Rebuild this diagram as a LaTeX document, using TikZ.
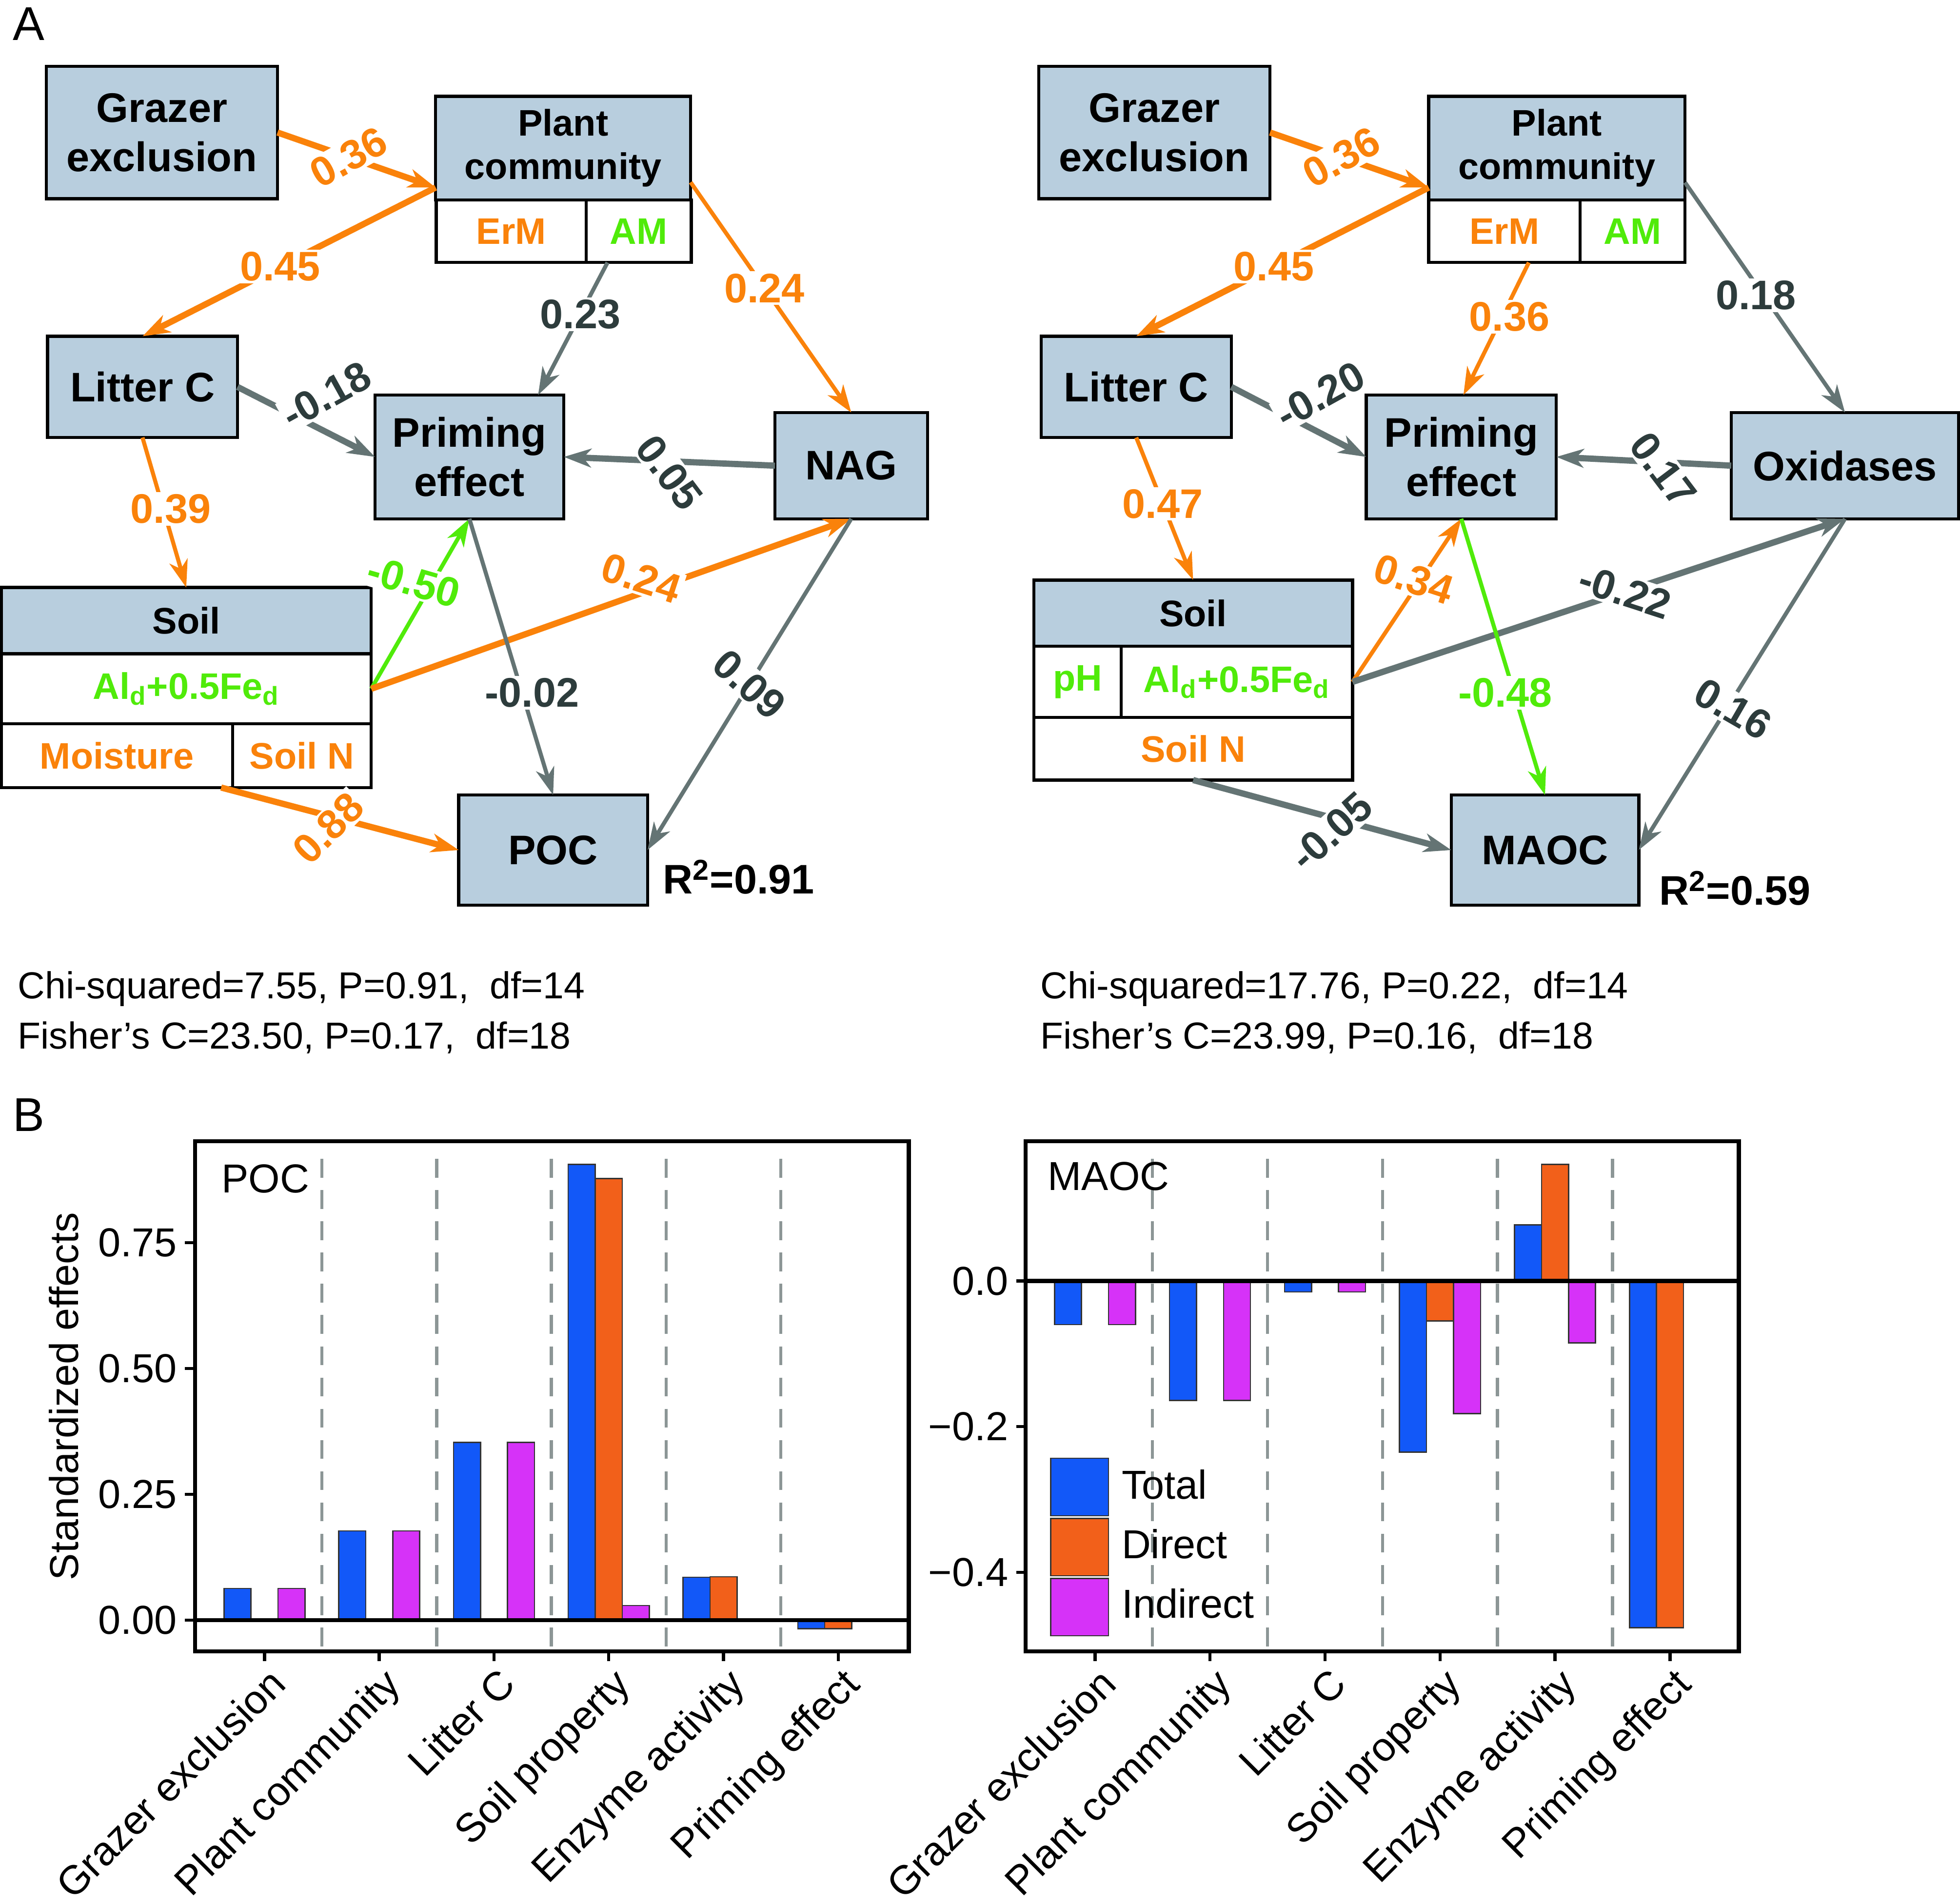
\documentclass[tikz,border=0pt]{standalone}
\usepackage{fontspec}
\setmainfont{Liberation Sans}
\usetikzlibrary{arrows.meta}

\definecolor{boxfill}{RGB}{184,206,222}
\definecolor{semor}{RGB}{250,130,10}
\definecolor{semgray}{RGB}{100,116,116}
\definecolor{semdark}{RGB}{45,60,60}
\definecolor{semgreen}{RGB}{80,235,10}
\definecolor{bartot}{RGB}{18,88,248}
\definecolor{bardir}{RGB}{242,96,26}
\definecolor{barind}{RGB}{214,50,248}
\definecolor{dashgray}{RGB}{140,150,150}

\newcommand\boxfont{\fontsize{18.8}{22.5}\selectfont\bfseries}
\newcommand\cellfont{\fontsize{16.8}{19.8}\selectfont\bfseries}
\newcommand\axisfont{\fontsize{18.4}{21}\selectfont}
\newcommand\fitfont{\fontsize{17.1}{20}\selectfont}
\newcommand\panelfont{\fontsize{21.6}{25}\selectfont}

\tikzset{
  varbox/.style={draw, line width=0.5mm, fill=boxfill, inner sep=0pt, outer sep=0pt, align=center, font=\boxfont},
  subcell/.style={draw, line width=0.5mm, fill=white, inner sep=0pt, outer sep=0pt, font=\cellfont},
  coeflab/.style={font=\boxfont, fill=white, inner sep=1pt},
  olab/.style={coeflab, text=semor},
  glab/.style={coeflab, text=semdark},
  nlab/.style={coeflab, text=semgreen},
  arr/.style={-{Stealth[length=4.4mm, width=3mm, inset=1.3mm]}},
  oarr/.style={arr, draw=semor},
  garr/.style={arr, draw=semgray},
  narr/.style={arr, draw=semgreen},
  strongline/.style={line width=1mm},
  weakline/.style={line width=0.65mm},
  axl/.style={font=\axisfont},
  barbox/.style={draw=black!80, line width=0.2mm},
  sepline/.style={draw=dashgray, line width=0.5mm, dash pattern=on 3mm off 2mm},
  frameline/.style={line width=0.65mm}
}

\begin{document}
\begin{tikzpicture}[x=0.2mm, y=-0.2mm]
\useasboundingbox (0,0) rectangle (1568,1523);

\node[font=\panelfont, anchor=base west, inner sep=0pt] (pA) at (10,32) {A};
\node[font=\panelfont, anchor=base west, inner sep=0pt] (pB) at (10,905) {B};

% SEM for POC
\node[varbox, minimum width=37mm, minimum height=21.2mm] (ge) at (129.5,106) {Grazer\\exclusion};
\node[varbox, font=\cellfont, minimum width=40.8mm, minimum height=16.6mm] (pc) at (450.5,118.5) {Plant\\community};
\node[subcell, text=semor, minimum width=24mm, minimum height=10mm] (pcE) at (409,185) {ErM};
\node[subcell, text=semgreen, minimum width=16.8mm, minimum height=10mm] (pcA) at (511,185) {AM};
\node[varbox, minimum width=30.4mm, minimum height=16.2mm] (lc) at (114,309.5) {Litter C};
\node[varbox, minimum width=30.2mm, minimum height=19.8mm] (pe) at (375.5,365.5) {Priming\\effect};
\node[varbox, minimum width=24.4mm, minimum height=17mm] (nag) at (681,372.5) {NAG};
\node[varbox, font=\cellfont, minimum width=59.2mm, minimum height=10.6mm] (soil) at (149,496.5) {Soil};
\node[subcell, text=semgreen, minimum width=59.2mm, minimum height=11.2mm] (soilA) at (149,551) {Al\textsubscript{d}+0.5Fe\textsubscript{d}};
\node[subcell, text=semor, minimum width=37mm, minimum height=10.2mm] (soilM) at (93.5,604.5) {Moisture};
\node[subcell, text=semor, minimum width=22.2mm, minimum height=10.2mm] (soilN) at (241.5,604.5) {Soil N};
\node[varbox, minimum width=30.2mm, minimum height=17.6mm] (poc) at (442.5,680) {POC};
\node[font=\boxfont, anchor=base west, inner sep=0pt] (r2poc) at (530,715) {R\textsuperscript{2}=0.91};
\coordinate (pcL) at ([yshift=2mm]pc.south west);

\draw[oarr, strongline] (ge.east) -- node[olab, pos=.45, rotate=29] (l1) {0.36} (pcL);
\draw[oarr, strongline] (pcL) -- node[olab, pos=.53] (l2) {0.45} (lc.north);
\draw[garr, weakline] (pcA.-135) -- node[glab, pos=.39] (l3) {0.23} (pe.42);
\draw[oarr, weakline] (pc.-15.5) -- node[olab, pos=.46] (l4) {0.24} (nag.north);
\draw[garr, strongline] (lc.east) -- node[glab, pos=.5, xshift=3.2mm, yshift=4.3mm, rotate=29] (l5) {-0.18} (pe.west);
\draw[garr, strongline] (nag.west) -- node[glab, pos=.5, yshift=-1.8mm, rotate=-53] (l6) {0.05} (pe.east);
\draw[oarr, weakline] (lc.south) -- node[olab, pos=.475, xshift=1.2mm] (l7) {0.39} (soil.north);
\draw[narr, weakline] (soilA.east) -- node[nlab, pos=.63, xshift=-3.1mm, rotate=-16] (l8) {-0.50} (pe.south);
\draw[oarr, strongline] (soilA.east) -- node[olab, pos=.5625, yshift=2.4mm, rotate=-18] (l9) {0.24} (nag.south);
\draw[garr, weakline] (pe.south) -- node[glab, pos=.63, xshift=1.6mm] (l10) {-0.02} (poc.north);
\draw[garr, weakline] (nag.south) -- node[glab, pos=.5, rotate=-42] (l11) {0.09} (poc.east);
\draw[oarr, strongline] (soilM.-17.6) -- node[olab, pos=.45, yshift=-2mm, rotate=45] (l12) {0.88} (poc.west);

% SEM for MAOC
\node[varbox, minimum width=37mm, minimum height=21.2mm] (ge2) at (923.5,106) {Grazer\\exclusion};
\node[varbox, font=\cellfont, minimum width=41mm, minimum height=16.6mm] (pc2) at (1245.5,118.5) {Plant\\community};
\node[subcell, text=semor, minimum width=24.2mm, minimum height=10mm] (pcE2) at (1203.5,185) {ErM};
\node[subcell, text=semgreen, minimum width=16.8mm, minimum height=10mm] (pcA2) at (1306,185) {AM};
\node[varbox, minimum width=30.4mm, minimum height=16.2mm] (lc2) at (909,309.5) {Litter C};
\node[varbox, minimum width=30.4mm, minimum height=19.8mm] (pe2) at (1169,365.5) {Priming\\effect};
\node[varbox, minimum width=36.4mm, minimum height=17mm] (ox) at (1476,372.5) {Oxidases};
\node[varbox, font=\cellfont, minimum width=51mm, minimum height=10.6mm] (soil2) at (954.5,490.5) {Soil};
\node[subcell, text=semgreen, minimum width=14mm, minimum height=11.4mm] (soil2p) at (862,545.5) {pH};
\node[subcell, text=semgreen, minimum width=37mm, minimum height=11.4mm] (soil2A) at (989.5,545.5) {Al\textsubscript{d}+0.5Fe\textsubscript{d}};
\node[subcell, text=semor, minimum width=51mm, minimum height=10mm] (soil2N) at (954.5,599) {Soil N};
\node[varbox, minimum width=30mm, minimum height=17.6mm] (maoc) at (1236,680) {MAOC};
\node[font=\boxfont, anchor=base west, inner sep=0pt] (r2maoc) at (1327,724) {R\textsuperscript{2}=0.59};
\coordinate (pcL2) at ([yshift=2mm]pc2.south west);

\draw[oarr, strongline] (ge2.east) -- node[olab, pos=.45, rotate=29] (m1) {0.36} (pcL2);
\draw[oarr, strongline] (pcL2) -- node[olab, pos=.53] (m2) {0.45} (lc2.north);
\draw[oarr, weakline] (pcE2.-52) -- node[olab, pos=.41, xshift=1.2mm] (m3) {0.36} (pe2.88);
\draw[garr, weakline] (pc2.-15.5) -- node[glab, pos=.49, xshift=-1.2mm] (m4) {0.18} (ox.north);
\draw[garr, strongline] (lc2.east) -- node[glab, pos=.5, xshift=3.4mm, yshift=4.3mm, rotate=29] (m5) {-0.20} (pe2.west);
\draw[garr, strongline] (ox.west) -- node[glab, pos=.39, yshift=-1.2mm, rotate=-53] (m6) {0.17} (pe2.east);
\draw[oarr, weakline] (lc2.south) -- node[olab, pos=.465] (m7) {0.47} (soil2.north);
\draw[oarr, weakline] (soil2A.east) -- node[olab, pos=.63, xshift=-1.2mm, rotate=-18] (m8) {0.34} (pe2.south);
\draw[garr, strongline] (soil2A.east) -- node[glab, pos=.553, rotate=-18] (m9) {-0.22} (ox.south);
\draw[narr, weakline] (pe2.south) -- node[nlab, pos=.63, xshift=-1.4mm] (m10) {-0.48} (maoc.north);
\draw[garr, weakline] (ox.south) -- node[glab, pos=.574, xshift=1mm, rotate=-30] (m11) {0.16} (maoc.east);
\draw[garr, strongline] (soil2N.south) -- node[glab, pos=.535, yshift=-2.2mm, rotate=42] (m12) {-0.05} (maoc.west);

% fit statistics
\node[font=\fitfont, anchor=base west, inner sep=0pt] (fitA1) at (14,799) {Chi-squared=7.55, P=0.91,\ \ df=14};
\node[font=\fitfont, anchor=base west, inner sep=0pt] (fitA2) at (14,839) {Fisher’s C=23.50, P=0.17,\ \ df=18};
\node[font=\fitfont, anchor=base west, inner sep=0pt] (fitB1) at (832,799) {Chi-squared=17.76, P=0.22,\ \ df=14};
\node[font=\fitfont, anchor=base west, inner sep=0pt] (fitB2) at (832,839) {Fisher’s C=23.99, P=0.16,\ \ df=18};

% effects on POC
\foreach \x in {257.5,349.3,441.1,532.9,624.7}
  \draw[sepline] (\x,927) -- (\x,1321);
\foreach \v [count=\i from 0] in {0.063,0.177,0.353,0.905,0.085,-0.017}
  \draw[barbox, fill=bartot] ({179.2+91.8*\i},1296) rectangle ({200.8+91.8*\i},{1296-402.7*\v});
\foreach \i/\v in {3/0.877,4/0.086,5/-0.017}
  \draw[barbox, fill=bardir] ({200.8+91.8*\i},1296) rectangle ({222.4+91.8*\i},{1296-402.7*\v});
\foreach \i/\v in {0/0.063,1/0.177,2/0.353,3/0.029}
  \draw[barbox, fill=barind] ({222.4+91.8*\i},1296) rectangle ({244+91.8*\i},{1296-402.7*\v});
\draw[frameline] (156,1296) -- (727,1296);
\draw[frameline] (156,913) rectangle (727,1321);
\foreach \v/\t [count=\i] in {0/0.00,0.25/0.25,0.5/0.50,0.75/0.75} {
  \draw[line width=0.5mm] (148,{1296-402.7*\v}) -- (156,{1296-402.7*\v});
  \node[axl, anchor=east, inner sep=0pt] (pyl\i) at (142,{1296-402.7*\v}) {\t};
}
\foreach \t [count=\i from 0] in {Grazer exclusion,Plant community,Litter C,Soil property,Enzyme activity,Priming effect} {
  \draw[line width=0.5mm] ({211.6+91.8*\i},1321) -- ({211.6+91.8*\i},1329);
  \node[axl, anchor=north east, inner sep=0pt, rotate=45] (pxl\i) at ({213.6+91.8*\i},1332) {\t};
}
\node[axl, rotate=90] (ytitle) at (51,1117) {Standardized effects};
\node[axl, anchor=base west, inner sep=0pt] (tpoc) at (177,954) {POC};

% effects on MAOC
\foreach \x in {922,1014,1106,1198,1290}
  \draw[sepline] (\x,927) -- (\x,1321);
\foreach \v [count=\i from 0] in {-0.060,-0.164,-0.015,-0.235,0.077,-0.476}
  \draw[barbox, fill=bartot] ({843.6+92*\i},1024.7) rectangle ({865.2+92*\i},{1024.7-582.6*\v});
\foreach \i/\v in {3/-0.055,4/0.160,5/-0.476}
  \draw[barbox, fill=bardir] ({865.2+92*\i},1024.7) rectangle ({886.8+92*\i},{1024.7-582.6*\v});
\foreach \i/\v in {0/-0.060,1/-0.164,2/-0.015,3/-0.182,4/-0.085}
  \draw[barbox, fill=barind] ({886.8+92*\i},1024.7) rectangle ({908.4+92*\i},{1024.7-582.6*\v});
\draw[frameline] (820.5,1024.7) -- (1391,1024.7);
\draw[frameline] (820.5,913) rectangle (1391,1321);
\foreach \v/\t [count=\i] in {0/0.0,-0.2/−0.2,-0.4/−0.4} {
  \draw[line width=0.5mm] (813,{1024.7-582.6*\v}) -- (820.5,{1024.7-582.6*\v});
  \node[axl, anchor=east, inner sep=0pt] (myl\i) at (807,{1024.7-582.6*\v}) {\t};
}
\foreach \t [count=\i from 0] in {Grazer exclusion,Plant community,Litter C,Soil property,Enzyme activity,Priming effect} {
  \draw[line width=0.5mm] ({876+92*\i},1321) -- ({876+92*\i},1329);
  \node[axl, anchor=north east, inner sep=0pt, rotate=45] (mxl\i) at ({878+92*\i},1332) {\t};
}
\node[axl, anchor=base west, inner sep=0pt] (tmaoc) at (838,952) {MAOC};
\foreach \c/\t [count=\i from 0] in {bartot/Total,bardir/Direct,barind/Indirect} {
  \draw[barbox, fill=\c] (840.5,{1166.6+48*\i}) rectangle (886.8,{1212.6+48*\i});
  \node[axl, anchor=base west, inner sep=0pt] (leg\i) at (897,{1199+47.7*\i}) {\t};
}
\end{tikzpicture}
\end{document}
